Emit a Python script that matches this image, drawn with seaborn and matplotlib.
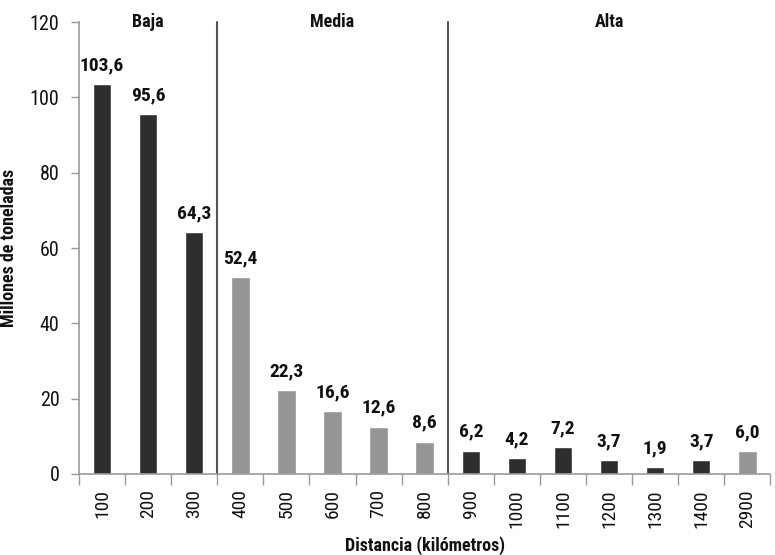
import matplotlib
matplotlib.use("Agg")
import matplotlib.pyplot as plt
import seaborn as sns
import pandas as pd

distancias = ["100", "200", "300", "400", "500", "600", "700", "800",
              "900", "1000", "1100", "1200", "1300", "1400", "2900"]
valores = [103.6, 95.6, 64.3, 52.4, 22.3, 16.6, 12.6, 8.6,
           6.2, 4.2, 7.2, 3.7, 1.9, 3.7, 6.0]
grupo_color = ["o", "o", "o", "c", "c", "c", "c", "c",
               "o", "o", "o", "o", "o", "o", "c"]
zonas = ["Baja", "Media", "Alta"]
limites = [-0.5, 2.5, 7.5, 14.5]
yticks = [0, 20, 40, 60, 80, 100, 120]

sns.set_theme(style="white")
plt.rcParams['font.family'] = ['Roboto Condensed', 'DejaVu Sans']

df = pd.DataFrame({"dist": distancias, "val": valores, "g": grupo_color})

fig = plt.figure(figsize=(7.75, 5.55), dpi=100)
ax = fig.add_axes([0.102, 0.146, 0.892, 0.814])

sns.barplot(data=df, x="dist", y="val", hue="g", order=distancias,
            palette={"o": "#2e2e2e", "c": "#959595"}, width=0.4,
            dodge=False, legend=False, ax=ax, saturation=1)

for i, v in enumerate(valores):
    ax.text(i, v + 2.6, f"{v:.1f}".replace(".", ","), ha="center", va="bottom",
            fontsize=14, fontweight=800, color="#111111")

for x in limites[1:-1]:
    ax.plot([x, x], [0, 120], color="#555555", lw=1.5, clip_on=False)

for z, a, b in zip(zonas, limites[:-1], limites[1:]):
    ax.text((a + b) / 2, 120, z, ha="center", va="center",
            fontsize=13, fontweight=800, color="#111111")

ax.set_xlim(-0.5, 14.5)
ax.set_ylim(0, 120)
ax.set_yticks(yticks)
ax.set_yticklabels([str(t) for t in yticks], fontsize=14.5, color="#111111")
ax.set_xticks(range(len(distancias)))
ax.set_xticklabels(distancias, rotation=90, fontsize=14, color="#111111")
ax.tick_params(axis="x", length=0, pad=11)
ax.set_xticks([i + 0.5 for i in range(-1, len(distancias))], minor=True)
ax.tick_params(axis="x", which="minor", length=8, width=1, color="#999999",
               bottom=True, direction="out")
ax.tick_params(axis="y", length=6, width=1, color="#999999", left=True,
               direction="out", pad=8)

for s in ["top", "right"]:
    ax.spines[s].set_visible(False)
for s in ["left", "bottom"]:
    ax.spines[s].set_color("#999999")
    ax.spines[s].set_linewidth(1.2)

ax.set_xlabel("Distancia (kilómetros)", fontsize=13, fontweight=800,
              color="#111111")
ax.set_ylabel("Millones de toneladas", fontsize=13, fontweight=800,
              color="#111111")
ax.xaxis.set_label_coords(0.5, -0.138)
ax.yaxis.set_label_coords(-0.088, 0.5)

fig.savefig("out.png", dpi=100)
